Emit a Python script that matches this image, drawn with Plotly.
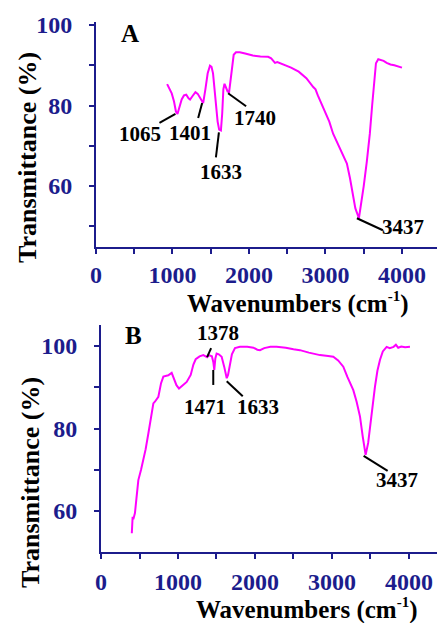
import plotly.graph_objects as go

# ---------------- data ----------------
# Panel A spectrum
a_wn = [930, 960, 990, 1020, 1045, 1065, 1090, 1120, 1150, 1180, 1210, 1230, 1260, 1300, 1330, 1370,
        1401, 1430, 1460, 1490, 1510, 1530, 1560, 1590, 1610, 1633, 1650, 1665, 1680, 1700, 1720,
        1740, 1760, 1780, 1800, 1830, 1880, 1950, 2050, 2150, 2250, 2290, 2320, 2340, 2370, 2400,
        2450, 2550, 2650, 2750, 2840, 2870, 2900, 2930, 3000, 3050, 3100, 3170, 3230, 3280, 3320,
        3350, 3390, 3437, 3470, 3500, 3540, 3580, 3610, 3640, 3660, 3690, 3730, 3760, 3800, 3850,
        3900, 3950, 4000]
a_t = [85.3, 84.3, 83.0, 81.0, 78.5, 77.9, 79.5, 81.5, 82.5, 82.7, 81.8, 81.5, 82.3, 83.3, 82.9, 81.5,
       80.6, 84.0, 88.0, 89.9, 89.6, 88.0, 82.0, 76.0, 74.0, 73.8, 78.0, 84.0, 85.4, 84.3, 83.5,
       83.3, 86.0, 90.0, 92.6, 93.2, 93.2, 92.9, 92.4, 92.2, 92.1, 91.7, 91.0, 90.6, 90.8, 90.6,
       90.1, 89.4, 88.4, 86.8, 84.6, 84.0, 82.5, 81.2, 78.5, 76.0, 73.0, 70.0, 67.5, 65.6, 62.0,
       58.5, 54.5, 52.0, 56.0, 60.0, 66.0, 73.0, 80.0, 87.5, 90.5, 91.5, 91.3, 91.1, 90.6, 90.2,
       90.0, 89.7, 89.4]
a_peaks = [1065, 1401, 1633, 1740, 3437]

# Panel B spectrum
b_wn = [400, 405, 411, 420, 441, 460, 485, 520, 550, 580, 615, 650, 680, 700, 745, 780, 810, 850,
        874, 918, 950, 980, 1013, 1060, 1113, 1165, 1200, 1230, 1280, 1329, 1360, 1378, 1400, 1440,
        1460, 1471, 1485, 1502, 1530, 1567, 1600, 1620, 1633, 1650, 1675, 1700, 1740, 1805, 1900,
        1980, 2030, 2065, 2120, 2200, 2281, 2400, 2500, 2584, 2700, 2844, 2950, 3017, 3080, 3147,
        3200, 3277, 3320, 3364, 3400, 3437, 3470, 3494, 3530, 3558, 3590, 3623, 3660, 3710, 3750,
        3800, 3830, 3860, 3900, 3950, 4013]
b_t = [54.6, 57.0, 58.6, 58.0, 59.5, 63.0, 67.5, 70.0, 72.4, 75.0, 78.8, 83.0, 86.1, 86.5, 87.7,
       91.0, 92.6, 92.8, 92.9, 93.5, 92.0, 90.5, 89.7, 90.5, 91.3, 93.0, 95.5, 96.8, 97.5, 97.8,
       97.6, 97.3, 97.8, 97.5, 96.0, 94.2, 97.0, 98.2, 98.0, 97.4, 95.0, 92.8, 92.2, 93.0, 95.8,
       98.0, 99.5, 99.8, 99.8, 99.6, 99.1, 99.0, 99.5, 99.8, 99.8, 99.6, 99.2, 99.0, 98.4, 97.8,
       97.6, 97.4, 96.5, 95.0, 92.5, 89.3, 86.5, 82.9, 78.0, 73.6, 76.5, 80.4, 86.0, 90.1, 94.0,
       96.6, 98.7, 99.8, 99.5, 99.8, 100.3, 99.6, 99.9, 99.7, 99.8]
b_peaks = [1378, 1471, 1633, 3437]

x_tick_vals = [0, 1000, 2000, 3000, 4000]
x_tick_text = ["0", "1000", "2000", "3000", "4000"]
y_tick_vals = [60, 80, 100]
y_tick_text = ["60", "80", "100"]

# ---------------- styling ----------------
W, H = 437, 623
NAVY = "#1c1c8c"
MAG = "#ff00ff"
SERIF = "Liberation Serif, Times New Roman, serif"

fig = go.Figure()
fig.add_trace(go.Scatter(x=a_wn, y=a_t, mode="lines", line=dict(color=MAG, width=2),
                         xaxis="x", yaxis="y", showlegend=False, hoverinfo="skip"))
fig.add_trace(go.Scatter(x=b_wn, y=b_t, mode="lines", line=dict(color=MAG, width=2),
                         xaxis="x2", yaxis="y2", showlegend=False, hoverinfo="skip"))


def xax(domain, rng, standoff):
    return dict(domain=domain, range=rng, showline=True, linecolor=NAVY, linewidth=2,
                showgrid=False, zeroline=False, ticks="outside", ticklen=5, tickwidth=2,
                tickcolor=NAVY, tickvals=x_tick_vals, ticktext=x_tick_text, automargin=False,
                tickfont=dict(family=SERIF, size=24, color=NAVY, weight="bold"),
                ticklabelstandoff=standoff,
                minor=dict(dtick=500, tick0=0, ticks="outside", ticklen=5, tickwidth=2,
                           tickcolor=NAVY, showgrid=False))


def yax(domain, rng, anchor):
    return dict(domain=domain, range=rng, anchor=anchor, showline=True, linecolor=NAVY,
                linewidth=2, showgrid=False, zeroline=False, ticks="outside", ticklen=5,
                tickwidth=2, tickcolor=NAVY, tickvals=y_tick_vals, ticktext=y_tick_text,
                automargin=False,
                tickfont=dict(family=SERIF, size=24, color=NAVY, weight="bold"),
                ticklabelstandoff=12,
                minor=dict(dtick=10, tick0=0, ticks="outside", ticklen=5, tickwidth=2,
                           tickcolor=NAVY, showgrid=False))


fig.update_layout(
    width=W, height=H, margin=dict(l=0, r=0, t=0, b=0, autoexpand=False),
    paper_bgcolor="white", plot_bgcolor="white",
    xaxis=dict(xax([96 / W, 1.0], [0, 4458], 0), anchor="y"),
    yaxis=yax([(H - 247) / H, (H - 22) / H], [44.86, 100.74], "x"),
    xaxis2=dict(xax([101 / W, 1.0], [0, 4364], 2), anchor="y2"),
    yaxis2=yax([(H - 552) / H, (H - 325) / H], [50.06, 105.1], "x2"),
)


def t_at(wns, ts, w):
    return ts[wns.index(w)]


# leader lines: (peak, x0, y0, x1, y1 [px, screen-down], text dx, text dy)
a_leaders = {1065: (-2, 0, -18, 9, -37, 20),
             1401: (-1, 0, -5, 15, -13, 30),
             1633: (-2, 2, -5, 27, 0, 42),
             1740: (-1, 1, 17, 14, 26, 26),
             3437: (-2, 0, 24, 12, 44, 9)}
b_leaders = {1378: (0, 0, 4, -9, 11, -24),
             1471: (-1, 0, -1, 15, -9, 37),
             1633: (0, 3, 16, 18, 31, 29),
             3437: (-2, 1, 22, 16, 31, 25)}

for (wns, ts, peaks, leaders, xr, yr) in [(a_wn, a_t, a_peaks, a_leaders, "x", "y"),
                                          (b_wn, b_t, b_peaks, b_leaders, "x2", "y2")]:
    for p in peaks:
        x0, y0, x1, y1, tdx, tdy = leaders[p]
        ty = t_at(wns, ts, p)
        fig.add_shape(type="line", xref=xr, yref=yr, xsizemode="pixel", ysizemode="pixel",
                      xanchor=p, yanchor=ty, x0=x0, x1=x1, y0=-y0, y1=-y1,
                      line=dict(color="black", width=2))
        fig.add_annotation(x=p, y=ty, xref=xr, yref=yr, text=str(p), showarrow=False,
                           xshift=tdx, yshift=-tdy, xanchor="center", yanchor="middle",
                           font=dict(family=SERIF, size=21, color="black", weight="bold"))


def paper_text(text, px, py, size, angle=0):
    fig.add_annotation(x=px / W, y=1 - py / H, xref="paper", yref="paper", text=text,
                       showarrow=False, xanchor="center", yanchor="middle", textangle=angle,
                       borderpad=0,
                       font=dict(family=SERIF, size=size, color="black", weight="bold"))


X_TITLE = "Wavenumbers (cm<sup><span style='font-size:15px'>-1</span></sup>)"
paper_text("A", 130, 33, 25)
paper_text("B", 133, 335, 25)
paper_text("Transmittance (%)", 27, 158, 26, -90)
paper_text("Transmittance (%)", 30, 483, 26, -90)
paper_text(X_TITLE, 298, 303, 25)
paper_text(X_TITLE, 307, 609, 25)

fig.write_html("out.html")
